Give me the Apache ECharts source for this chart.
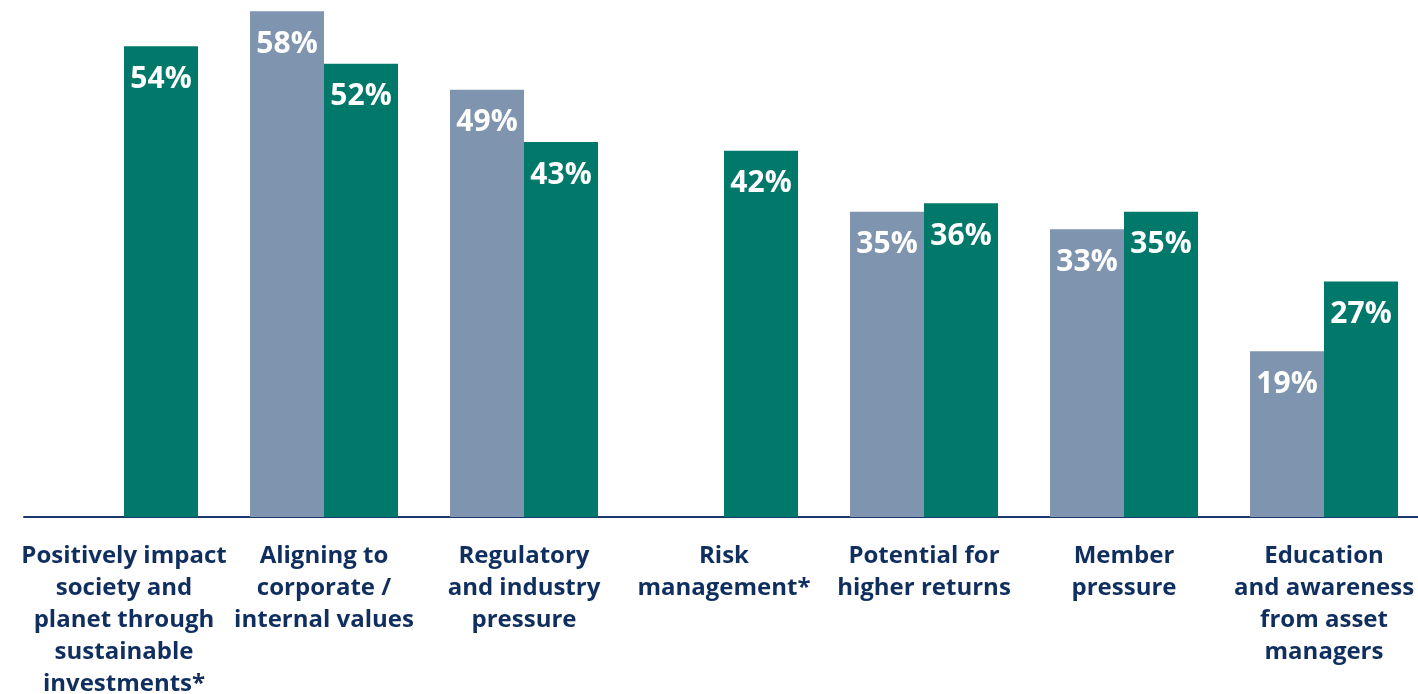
<!DOCTYPE html>
<html>
<head>
<meta charset="utf-8">
<script src="https://cdn.jsdelivr.net/npm/echarts@6/dist/echarts.min.js"></script>
<style>
  html, body { margin: 0; padding: 0; background: #fff; }
  #chart { width: 1418px; height: 694px; }
</style>
</head>
<body>
<div id="chart"></div>
<script>
  // categories and the two series (grey = earlier survey, green = latest)
  var categories = [
    'Positively impact\nsociety and\nplanet through\nsustainable\ninvestments*',
    'Aligning to\ncorporate /\ninternal values',
    'Regulatory\nand industry\npressure',
    'Risk\nmanagement*',
    'Potential for\nhigher returns',
    'Member\npressure',
    'Education\nand awareness\nfrom asset\nmanagers'
  ];
  var greyValues = [null, 58, 49, null, 35, 33, 19];
  var greenValues = [54, 52, 43, 42, 36, 35, 27];

  var chart = echarts.init(document.getElementById('chart'));

  var valueLabel = {
    show: true,
    position: 'insideTop',
    distance: 18,
    color: '#ffffff',
    fontFamily: 'Open Sans',
    fontWeight: 'bold',
    fontSize: 30,
    formatter: '{c}%'
  };

  var option = {
    animation: false,
    grid: { left: 24, right: -6, top: 0, bottom: 177, outerBoundsMode: 'none' },
    xAxis: {
      type: 'category',
      data: categories,
      axisLine: { lineStyle: { color: '#1b3a6b', width: 2 } },
      axisTick: { show: false },
      axisLabel: {
        interval: 0,
        margin: 23,
        color: '#102f5f',
        fontFamily: 'Open Sans',
        fontWeight: 'bold',
        fontSize: 24,
        lineHeight: 32,
        align: 'center'
      }
    },
    yAxis: {
      type: 'value',
      min: 0,
      max: 59.3,
      show: false
    },
    series: [{
      type: 'bar',
      data: greyValues,
      barWidth: 74,
      barGap: '0%',
      itemStyle: { color: '#7f94af' },
      label: valueLabel
    }, {
      type: 'bar',
      data: greenValues,
      barWidth: 74,
      barGap: '0%',
      itemStyle: { color: '#00786a' },
      label: valueLabel
    }]
  };
  chart.setOption(option);
</script>
</body>
</html>
